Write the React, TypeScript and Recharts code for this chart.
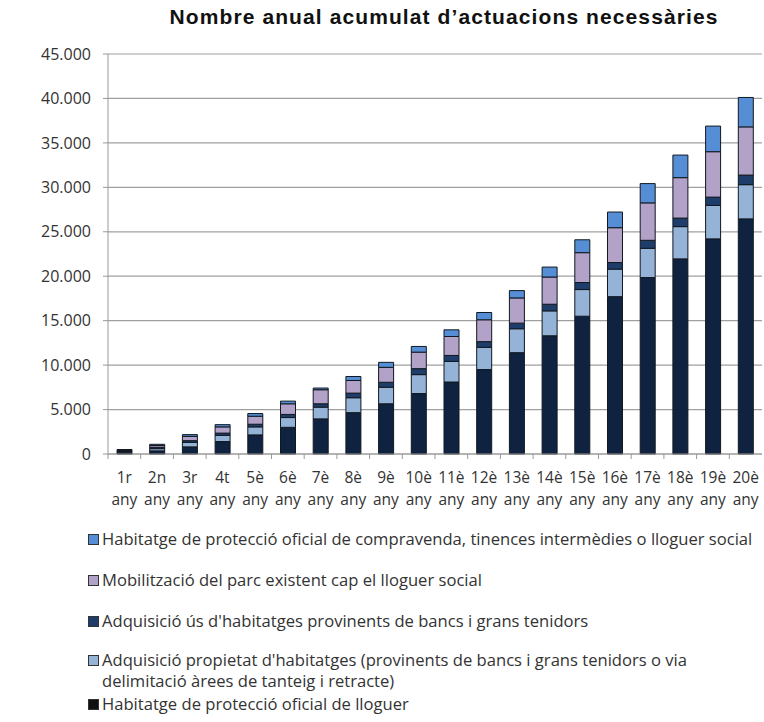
import React from "react";
import { BarChart, Bar, XAxis, YAxis, CartesianGrid } from "recharts";

const years = ["1r", "2n", "3r", "4t", "5è", "6è", "7è", "8è", "9è", "10è", "11è", "12è", "13è", "14è", "15è", "16è", "17è", "18è", "19è", "20è"];

// bottom to top of each stack
const hpoLloguer = [200, 350, 800, 1400, 2150, 3000, 3950, 4650, 5650, 6800, 8100, 9500, 11400, 13300, 15500, 17700, 19850, 21950, 24200, 26450];
const adqPropietat = [100, 250, 500, 700, 900, 1100, 1320, 1680, 1860, 2130, 2320, 2500, 2690, 2800, 3000, 3100, 3290, 3630, 3770, 3850];
const adqUs = [80, 150, 200, 250, 300, 350, 380, 520, 560, 670, 670, 640, 630, 750, 790, 740, 900, 960, 930, 1080];
const mobilitzacio = [70, 200, 480, 700, 900, 1200, 1580, 1420, 1680, 1860, 2130, 2460, 2840, 3060, 3360, 3920, 4210, 4550, 5110, 5420];
const hpoCompravenda = [50, 140, 200, 250, 300, 300, 190, 450, 560, 640, 750, 820, 820, 1120, 1450, 1760, 2170, 2540, 2880, 3310];

const yTicks = [0, 5000, 10000, 15000, 20000, 25000, 30000, 35000, 40000, 45000];

const series = [
  { key: "hpoLloguer", values: hpoLloguer, color: "#0f2341", lines: ["Habitatge de protecció oficial de lloguer"], swatch: "#111111" },
  { key: "adqPropietat", values: adqPropietat, color: "#95b3d7", lines: ["Adquisició propietat d'habitatges (provinents de bancs i grans tenidors o via", "delimitació àrees de tanteig i retracte)"], swatch: "#95b3d7" },
  { key: "adqUs", values: adqUs, color: "#1f3d6b", lines: ["Adquisició ús d'habitatges provinents de bancs i grans tenidors"], swatch: "#1f3d6b" },
  { key: "mobilitzacio", values: mobilitzacio, color: "#b3a2c7", lines: ["Mobilització del parc existent cap el lloguer social"], swatch: "#b3a2c7" },
  { key: "hpoCompravenda", values: hpoCompravenda, color: "#558ed5", lines: ["Habitatge de protecció oficial de compravenda, tinences intermèdies o lloguer social"], swatch: "#558ed5" },
];

const data = years.map((y, i) => {
  const row: any = { year: y };
  series.forEach(s => { row[s.key] = s.values[i]; });
  return row;
});

const FONT = "'Open Sans', Lato, sans-serif";
const CHART_W = 764;
const LEFT = 108;
const RIGHT_M = 2;
const band = (CHART_W - LEFT - RIGHT_M) / years.length;

const fmt = (v: number) => v === 0 ? "0" : v.toLocaleString("de-DE");

const XTick = (props: any) => {
  const { x, y, payload } = props;
  return (
    <g>
      <line x1={x - band / 2} x2={x - band / 2} y1={y - 8} y2={y - 3} stroke="#999" />
      <text x={x} y={y + 21} textAnchor="middle" fontSize={15.5} fill="#333" fontFamily={FONT}>{payload.value}</text>
      <text x={x} y={y + 43} textAnchor="middle" fontSize={15.5} fill="#333" fontFamily={FONT}>any</text>
    </g>
  );
};

// legend lists top segment first
const legendRows = [
  { s: series[4], y: 538 },
  { s: series[3], y: 579 },
  { s: series[2], y: 620 },
  { s: series[1], y: 659 },
  { s: series[0], y: 703 },
];

export default function App() {
  return (
    <div style={{ position: "absolute", left: 0, top: 0, width: 764, height: 722, background: "#fff", fontFamily: FONT }}>
      <div style={{ position: "absolute", left: 0, width: 888, top: 5, textAlign: "center", fontFamily: "'Liberation Sans', Arial, sans-serif", fontWeight: "bold", fontSize: 21, letterSpacing: 1.1, color: "#111" }}>
        Nombre anual acumulat d’actuacions necessàries
      </div>
      <div style={{ position: "absolute", left: 0, top: 0 }}>
        <BarChart width={CHART_W} height={520} data={data} margin={{ top: 54, right: RIGHT_M, left: 0, bottom: 6 }}>
          <CartesianGrid vertical={false} stroke="#a0a0a0" strokeWidth={1.2} />
          <XAxis dataKey="year" tick={<XTick />} tickLine={false} axisLine={{ stroke: "#999" }} height={60} interval={0} />
          <YAxis
            width={LEFT}
            domain={[0, 45000]}
            ticks={yTicks}
            tickFormatter={fmt}
            tickSize={5}
            tickMargin={12}
            axisLine={{ stroke: "#999" }}
            tickLine={{ stroke: "#999" }}
            tick={{ fontSize: 16, fill: "#333", fontFamily: FONT }}
          />
          {series.map(s => (
            <Bar key={s.key} dataKey={s.key} stackId="a" fill={s.color} stroke="#101820" strokeWidth={1} barSize={15} isAnimationActive={false} />
          ))}
        </BarChart>
      </div>
      {legendRows.map(({ s, y }) => (
        <div key={s.key} style={{ position: "absolute", left: 88, top: y - 10.5, width: 676, fontSize: 16.6, lineHeight: "21px", color: "#333", display: "flex", whiteSpace: "nowrap" }}>
          <span style={{ display: "inline-block", width: 9, height: 9, background: s.swatch, border: "1px solid #333", marginTop: 6, marginRight: 3, flexShrink: 0 }} />
          <span>{s.lines.map((l, i) => <div key={i}>{l}</div>)}</span>
        </div>
      ))}
    </div>
  );
}
